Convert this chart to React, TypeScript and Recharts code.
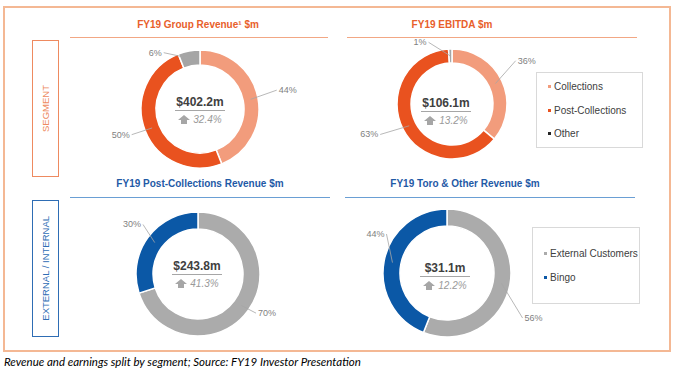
import React from "react"
import { PieChart, Pie, Cell } from "recharts"

// segment split (percent of total)
const segmentNames = ["Collections", "Post-Collections", "Other"]
const groupRevenueShare = [44, 50, 6]
const ebitdaShare = [36, 63, 1]

// external / internal split (percent of total)
const customerNames = ["External Customers", "Bingo"]
const postCollectionsShare = [70, 30]
const toroOtherShare = [56, 44]

const totals = ["$402.2m", "$106.1m", "$243.8m", "$31.1m"]
const growth = ["32.4%", "13.2%", "41.3%", "12.2%"]
const titles = [
  "FY19 Group Revenue\u00B9 $m",
  "FY19 EBITDA $m",
  "FY19 Post-Collections Revenue $m",
  "FY19 Toro & Other Revenue $m",
]

const segmentColors = ["#F29C7C", "#E9521F", "#A5A5A5"]
const segmentLegendColors = ["#F29C7C", "#E9521F", "#262626"]
const customerColors = ["#ABABAB", "#0B58A6"]
const ORANGE = "#E8602B"
const BLUE = "#1F5AA6"
const FONT = '"Liberation Sans", Arial, sans-serif'

const toRows = (names: string[], values: number[]) =>
  names.map((name, i) => ({ name, value: values[i] }))

// label placement tweaks: [angle shift in degrees, distance past the ring]
function makeLabel(nudges: number[][]) {
  return (props: any) => {
    const { cx, cy, midAngle, innerRadius, outerRadius, index, value } = props
    const [shift, gap] = nudges[index]
    const mid = ((90 - midAngle) * Math.PI) / 180
    const a = ((90 - midAngle + shift) * Math.PI) / 180
    const r0 = (innerRadius + outerRadius) / 2
    const r1 = outerRadius + gap
    const x0 = cx + Math.sin(mid) * r0
    const y0 = cy - Math.cos(mid) * r0
    const x1 = cx + Math.sin(a) * r1
    const y1 = cy - Math.cos(a) * r1
    const right = Math.sin(a) >= 0
    return (
      <g key={`lbl-${index}`}>
        <line x1={x0} y1={y0} x2={x1} y2={y1} stroke="#A6A6A6" strokeWidth={0.8} />
        <text
          x={x1 + (right ? 2 : -2)}
          y={y1}
          textAnchor={right ? "start" : "end"}
          dominantBaseline="central"
          fill="#7F7F7F"
          fontSize={9}
          fontFamily={FONT}
        >
          {value}%
        </text>
      </g>
    )
  }
}

interface DonutProps {
  data: { name: string; value: number }[]
  colors: string[]
  x: number
  y: number
  outer: number
  inner: number
  nudges: number[][]
}

function Donut({ data, colors, x, y, outer, inner, nudges }: DonutProps) {
  const w = 220
  const h = 180
  return (
    <div style={{ position: "absolute", left: x - w / 2, top: y - h / 2 }}>
      <PieChart width={w} height={h} margin={{ top: 0, right: 0, bottom: 0, left: 0 }}>
        <Pie
          data={data}
          dataKey="value"
          cx="50%"
          cy="50%"
          startAngle={90}
          endAngle={-270}
          innerRadius={inner}
          outerRadius={outer}
          stroke="#fff"
          strokeWidth={1.5}
          label={makeLabel(nudges)}
          labelLine={false}
          isAnimationActive={false}
        >
          {data.map((d, i) => (
            <Cell key={d.name} fill={colors[i]} />
          ))}
        </Pie>
      </PieChart>
    </div>
  )
}

function CenterText({ x, y, total, pct }: { x: number; y: number; total: string; pct: string }) {
  return (
    <div style={{ position: "absolute", left: x - 40, top: y - 7, width: 80, textAlign: "center" }}>
      <div style={{ fontSize: 12, fontWeight: "bold", color: "#404040", lineHeight: "14px" }}>{total}</div>
      <div style={{ width: 50, height: 1, background: "#A6A6A6", margin: "1px auto 3px" }} />
      <div style={{ display: "flex", justifyContent: "center", alignItems: "center", gap: 3 }}>
        <svg width={12} height={9}>
          <polygon points="6,0 12,5 9,5 9,9 3,9 3,5 0,5" fill="#A6A6A6" />
        </svg>
        <span style={{ fontSize: 10, fontStyle: "italic", color: "#9A9A9A", lineHeight: "11px" }}>{pct}</span>
      </div>
    </div>
  )
}

function Title({ x, y, text, color, lineFrom, lineTo, lineY, lineColor }: any) {
  return (
    <>
      <div
        style={{
          position: "absolute", left: x - 150, top: y - 6, width: 300, textAlign: "center",
          fontSize: 10, fontWeight: "bold", color, lineHeight: "12px",
        }}
      >
        {text}
      </div>
      <div style={{ position: "absolute", left: lineFrom, top: lineY, width: lineTo - lineFrom, height: 1, background: lineColor }} />
    </>
  )
}

function SideBox({ top, text, color }: { top: number; text: string; color: string }) {
  return (
    <div
      style={{
        position: "absolute", left: 32, top, width: 27, height: 137, boxSizing: "border-box",
        border: `1.5px solid ${color}`, display: "flex", alignItems: "center", justifyContent: "center",
      }}
    >
      <div style={{ writingMode: "vertical-rl", transform: "rotate(180deg)", fontSize: 9.5, color, whiteSpace: "nowrap" }}>
        {text}
      </div>
    </div>
  )
}

function LegendBox({ left, top, width, height, names, colors, gapY }: any) {
  return (
    <div
      style={{
        position: "absolute", left, top, width, height, boxSizing: "border-box",
        border: "1px solid #D9D9D9", background: "#fff",
        display: "flex", flexDirection: "column", justifyContent: "center", paddingLeft: 11,
      }}
    >
      {names.map((n: string, i: number) => (
        <div
          key={n}
          style={{ display: "flex", alignItems: "center", height: gapY, fontSize: 10, color: "#404040", whiteSpace: "nowrap" }}
        >
          <span style={{ width: 3, height: 3, background: colors[i], marginRight: 3, flexShrink: 0 }} />
          {n}
        </div>
      ))}
    </div>
  )
}

export default function App() {
  return (
    <div
      style={{
        position: "absolute", left: 0, top: 0, width: 677, height: 385, background: "#fff",
        fontFamily: FONT, overflow: "hidden",
      }}
    >
      <div
        style={{
          position: "absolute", left: 3, top: 6, width: 668, height: 346, boxSizing: "border-box",
          border: "2px solid #F4B894",
        }}
      />

      <SideBox top={40} text="SEGMENT" color="#EE8A60" />
      <SideBox top={200} text="EXTERNAL / INTERNAL" color="#2E6DB4" />

      <Title x={198} y={25} text={titles[0]} color={ORANGE} lineFrom={70} lineTo={328} lineY={37} lineColor="#F2A784" />
      <Title x={452} y={25} text={titles[1]} color={ORANGE} lineFrom={347} lineTo={637} lineY={37} lineColor="#F2A784" />
      <Title x={200} y={184} text={titles[2]} color={BLUE} lineFrom={70} lineTo={330} lineY={197} lineColor="#6A9FD4" />
      <Title x={465} y={184} text={titles[3]} color={BLUE} lineFrom={345} lineTo={635} lineY={197} lineColor="#6A9FD4" />

      <Donut data={toRows(segmentNames, groupRevenueShare)} colors={segmentColors} x={200} y={109} outer={59} inner={44}
        nudges={[[-3, 20], [1, 14], [-22, 8]]} />
      <Donut data={toRows(segmentNames, ebitdaShare)} colors={segmentColors} x={452} y={104} outer={55} inner={41}
        nudges={[[-9, 22], [4, 23], [-19, 11]]} />
      <Donut data={toRows(customerNames, postCollectionsShare)} colors={customerColors} x={198} y={274} outer={62} inner={45}
        nudges={[[-2, 8], [6, 12]]} />
      <Donut data={toRows(customerNames, toroOtherShare)} colors={customerColors} x={447} y={273} outer={64} inner={47}
        nudges={[[20, 24], [22, 8]]} />

      <CenterText x={200} y={102} total={totals[0]} pct={growth[0]} />
      <CenterText x={446} y={103} total={totals[1]} pct={growth[1]} />
      <CenterText x={197} y={266} total={totals[2]} pct={growth[2]} />
      <CenterText x={445} y={268} total={totals[3]} pct={growth[3]} />

      <LegendBox left={536} top={72} width={107} height={76} names={segmentNames} colors={segmentLegendColors} gapY={23.5} />
      <LegendBox left={532} top={227} width={108} height={77} names={customerNames} colors={customerColors} gapY={24} />

      <div
        style={{
          position: "absolute", left: 4, top: 355, fontFamily: "Lato, sans-serif", fontStyle: "italic",
          fontSize: 11.5, color: "#000", whiteSpace: "nowrap",
        }}
      >
        Revenue and earnings split by segment; Source: FY19 Investor Presentation
      </div>
    </div>
  )
}
